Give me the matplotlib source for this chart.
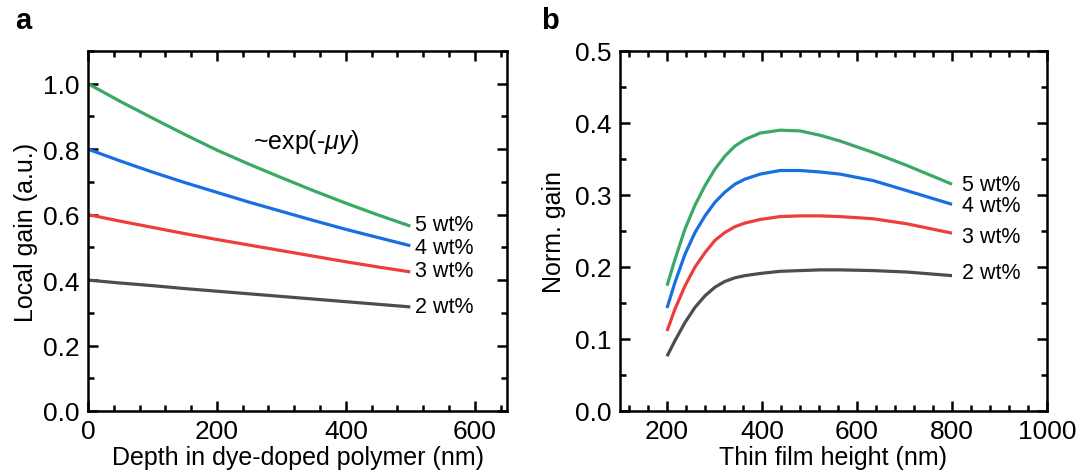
import numpy as np
import matplotlib
matplotlib.use('Agg')
import matplotlib.pyplot as plt
from matplotlib.ticker import MultipleLocator, FormatStrFormatter

plt.rcParams['font.family'] = ['Liberation Sans', 'DejaVu Sans']
plt.rcParams['mathtext.fontset'] = 'custom'
plt.rcParams['mathtext.rm'] = 'Liberation Sans'
plt.rcParams['mathtext.it'] = 'Liberation Sans:italic'

# panel a : local gain vs depth
depth = [0, 50, 100, 150, 200, 250, 300, 350, 400, 450, 500]
gain_5 = [1.00, 0.946, 0.895, 0.845, 0.797, 0.754, 0.713, 0.673, 0.635, 0.599, 0.565]
gain_4 = [0.80, 0.764, 0.730, 0.698, 0.668, 0.638, 0.610, 0.582, 0.555, 0.530, 0.505]
gain_3 = [0.60, 0.580, 0.561, 0.542, 0.524, 0.507, 0.490, 0.473, 0.456, 0.440, 0.425]
gain_2 = [0.40, 0.391, 0.383, 0.374, 0.366, 0.358, 0.350, 0.342, 0.334, 0.326, 0.318]

# panel b : normalised gain vs film height
height = [200, 217, 238, 259, 280, 301, 322, 343, 364, 396, 438, 480,
          522, 564, 634, 705, 800]
norm_5 = [0.174, 0.211, 0.253, 0.286, 0.313, 0.336, 0.354, 0.368, 0.377, 0.386, 0.390, 0.389,
          0.383, 0.375, 0.359, 0.341, 0.315]
norm_4 = [0.143, 0.179, 0.218, 0.248, 0.271, 0.290, 0.304, 0.315, 0.322, 0.329, 0.334, 0.334,
          0.332, 0.329, 0.320, 0.306, 0.287]
norm_3 = [0.111, 0.142, 0.174, 0.200, 0.220, 0.237, 0.248, 0.256, 0.261, 0.266, 0.270, 0.271,
          0.271, 0.270, 0.267, 0.260, 0.247]
norm_2 = [0.076, 0.098, 0.123, 0.144, 0.160, 0.172, 0.180, 0.185, 0.188, 0.191, 0.194, 0.195,
          0.196, 0.196, 0.195, 0.193, 0.188]

labels = ['5 wt%', '4 wt%', '3 wt%', '2 wt%']
colors = ['#3BA864', '#1A6FE0', '#EE3D3D', '#4D4D4D']

# label positions (data coords)
lab_a_y = [0.57, 0.50, 0.43, 0.32]
lab_b_y = [0.315, 0.285, 0.243, 0.192]

fs_tick = 19
fs_lab = 18
fig = plt.figure(figsize=(10.84, 4.77), dpi=100)
ax1 = fig.add_axes([0.0812, 0.1363, 0.3865, 0.7547])
ax2 = fig.add_axes([0.5715, 0.1363, 0.3944, 0.7547])

for y, c in zip([gain_5, gain_4, gain_3, gain_2], colors):
    ax1.plot(depth, y, color=c, lw=2.3, solid_capstyle='butt')
for yl, lab in zip(lab_a_y, labels):
    ax1.text(508, yl, lab, fontsize=15.5, va='center', ha='left')
ax1.text(338, 0.826, r'~exp(-$\mathit{\mu y}$)', fontsize=18, ha='center', va='center')
ax1.set_xlim(0, 650)
ax1.set_ylim(0, 1.1)
ax1.xaxis.set_major_locator(MultipleLocator(200))
ax1.xaxis.set_minor_locator(MultipleLocator(40))
ax1.yaxis.set_major_locator(MultipleLocator(0.2))
ax1.yaxis.set_minor_locator(MultipleLocator(0.1))
ax1.set_xlabel('Depth in dye-doped polymer (nm)', fontsize=fs_lab, labelpad=1)
ax1.set_ylabel('Local gain (a.u.)', fontsize=fs_lab, labelpad=4)
ax1.yaxis.set_major_formatter(FormatStrFormatter('%.1f'))

for y, c in zip([norm_5, norm_4, norm_3, norm_2], colors):
    ax2.plot(height, y, color=c, lw=2.3, solid_capstyle='butt')
for yl, lab in zip(lab_b_y, labels):
    ax2.text(821, yl, lab, fontsize=15.5, va='center', ha='left')
ax2.set_xlim(100, 1000)
ax2.set_ylim(0, 0.5)
ax2.xaxis.set_major_locator(MultipleLocator(200))
ax2.xaxis.set_minor_locator(MultipleLocator(40))
ax2.yaxis.set_major_locator(MultipleLocator(0.1))
ax2.yaxis.set_minor_locator(MultipleLocator(0.05))
ax2.set_xlabel('Thin film height (nm)', fontsize=fs_lab, labelpad=1)
ax2.set_ylabel('Norm. gain', fontsize=fs_lab, labelpad=6)
ax2.yaxis.set_major_formatter(FormatStrFormatter('%.1f'))

for ax in [ax1, ax2]:
    for s in ax.spines.values():
        s.set_linewidth(1.8)
    ax.tick_params(which='both', direction='in', top=True, right=True, width=1.8, labelsize=fs_tick)
    ax.tick_params(which='major', length=7, pad=6)
    ax.tick_params(which='minor', length=4)

fig.text(0.014, 0.955, 'a', fontsize=21, fontweight='bold', va='center')
fig.text(0.499, 0.955, 'b', fontsize=21, fontweight='bold', va='center')

fig.savefig('out.png', dpi=100)
